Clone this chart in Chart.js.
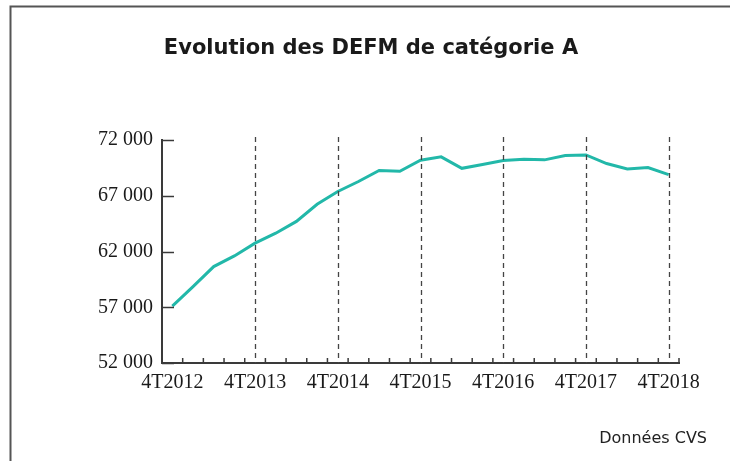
<!DOCTYPE html>
<html>
<head>
<meta charset="utf-8">
<script src="https://cdn.jsdelivr.net/npm/chart.js@4.4.1/dist/chart.umd.min.js"></script>
<style>
  html, body { margin: 0; padding: 0; background: #ffffff; }
  #wrap { position: relative; width: 730px; height: 461px; }
  canvas { display: block; }
</style>
</head>
<body>
<div id="wrap"><canvas id="c" width="730" height="461"></canvas></div>
<script>
// ---- Data ----
const titleText = 'Evolution des DEFM de catégorie A';
const noteText = 'Données CVS';
const quarters = [
  '4T2012',
  '1T2013', '2T2013', '3T2013', '4T2013',
  '1T2014', '2T2014', '3T2014', '4T2014',
  '1T2015', '2T2015', '3T2015', '4T2015',
  '1T2016', '2T2016', '3T2016', '4T2016',
  '1T2017', '2T2017', '3T2017', '4T2017',
  '1T2018', '2T2018', '3T2018', '4T2018'
];
const defmA = [
  57100,
  58850, 60650, 61600, 62750,
  63640, 64700, 66230, 67380,
  68280, 69270, 69200, 70180,
  70490, 69460, 69800, 70160,
  70280, 70220, 70610, 70660,
  69890, 69410, 69530, 68900
];
const tickLabels = ['4T2012', '4T2013', '4T2014', '4T2015', '4T2016', '4T2017', '4T2018'];
const yTicks = [52000, 57000, 62000, 67000, 72000];

const AXIS = '#3a3a3a';
const LINE = '#22b8a9';
const SERIF = '"Liberation Serif", "Times New Roman", serif';
const SANS = '"DejaVu Sans", sans-serif';

function fmt(v) {
  return String(v).replace(/\B(?=(\d{3})+(?!\d))/g, ' ');
}

const decor = {
  id: 'decor',
  beforeDraw(chart) {
    const ctx = chart.ctx;
    ctx.save();
    // frame (top + left)
    ctx.strokeStyle = '#555555';
    ctx.lineWidth = 2;
    ctx.beginPath();
    ctx.moveTo(10.5, 461);
    ctx.lineTo(10.5, 6.5);
    ctx.lineTo(730, 6.5);
    ctx.stroke();
    // title
    ctx.fillStyle = '#1a1a1a';
    ctx.font = 'bold 21px ' + SANS;
    ctx.textAlign = 'center';
    ctx.textBaseline = 'middle';
    ctx.fillText(titleText, 371, 49);
    // note
    ctx.font = '16px ' + SANS;
    ctx.textAlign = 'right';
    ctx.fillStyle = '#222222';
    ctx.fillText(noteText, 707, 439);
    ctx.restore();
  },
  afterDatasetsDraw(chart) {
    const ctx = chart.ctx;
    const xs = chart.scales.x, ys = chart.scales.y;
    const area = chart.chartArea;
    ctx.save();
    // dashed verticals at each 4T
    ctx.strokeStyle = '#444444';
    ctx.lineWidth = 1.3;
    ctx.setLineDash([5, 4]);
    quarters.forEach((q, i) => {
      if (i > 0 && tickLabels.includes(q)) {
        const x = Math.round(xs.getPixelForValue(i)) + 0.5;
        ctx.beginPath();
        ctx.moveTo(x, area.top - 3);
        ctx.lineTo(x, area.bottom);
        ctx.stroke();
      }
    });
    ctx.setLineDash([]);
    // inward tick marks on x axis (category boundaries)
    ctx.strokeStyle = AXIS;
    ctx.lineWidth = 1.5;
    const half = (xs.getPixelForValue(1) - xs.getPixelForValue(0)) / 2;
    for (let i = 0; i <= quarters.length; i++) {
      const x = xs.getPixelForValue(i) - half;
      ctx.beginPath();
      ctx.moveTo(x, area.bottom);
      ctx.lineTo(x, area.bottom - 5);
      ctx.stroke();
    }
    // inward tick marks on y axis
    yTicks.forEach(v => {
      const y = Math.round(ys.getPixelForValue(v)) + 0.5;
      ctx.beginPath();
      ctx.moveTo(area.left, y);
      ctx.lineTo(area.left + 12, y);
      ctx.stroke();
    });
    ctx.restore();
  }
};

new Chart(document.getElementById('c'), {
  type: 'line',
  data: {
    labels: quarters,
    datasets: [{
      label: 'DEFM catégorie A',
      data: defmA,
      borderColor: LINE,
      borderWidth: 3,
      pointRadius: 0,
      tension: 0,
      fill: false
    }]
  },
  options: {
    responsive: false,
    animation: false,
    devicePixelRatio: 1,
    layout: { padding: { left: 62, right: 51, top: 140, bottom: 68 } },
    plugins: {
      legend: { display: false },
      title: { display: false },
      tooltip: { enabled: false }
    },
    scales: {
      x: {
        type: 'category',
        offset: true,
        grid: { display: false, drawTicks: false },
        border: { display: true, color: AXIS, width: 2 },
        afterFit: s => { s.height = 30; },
        ticks: {
          autoSkip: false,
          maxRotation: 0,
          minRotation: 0,
          padding: 8,
          color: '#1a1a1a',
          font: { family: SERIF, size: 20 },
          callback: function (v, i) {
            const l = quarters[i];
            return tickLabels.includes(l) ? l : '';
          }
        }
      },
      y: {
        min: 52000,
        max: 72000,
        afterFit: s => { s.width = 100; },
        afterBuildTicks: s => { s.ticks = yTicks.map(v => ({ value: v })); },
        grid: { display: false, drawTicks: false },
        border: { display: true, color: AXIS, width: 2 },
        ticks: {
          padding: 9,
          color: '#1a1a1a',
          font: { family: SERIF, size: 20 },
          callback: v => fmt(v)
        }
      }
    }
  },
  plugins: [decor]
});
</script>
</body>
</html>
